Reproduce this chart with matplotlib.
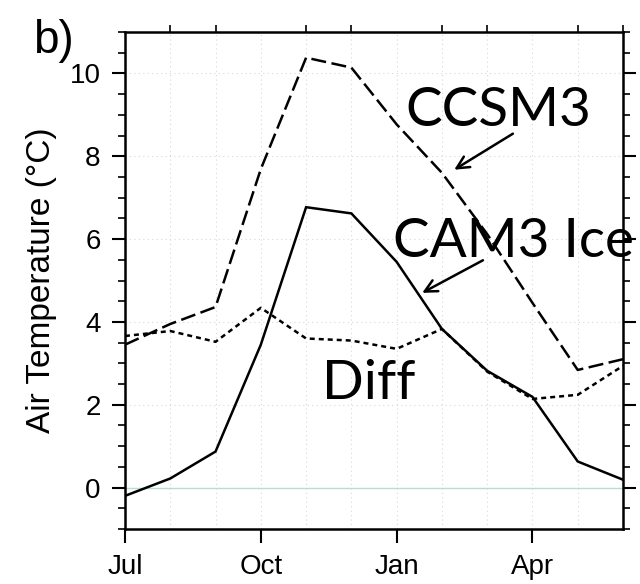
import matplotlib
matplotlib.use("Agg")
import matplotlib.pyplot as plt
import numpy as np

months = ["Jul", "Aug", "Sep", "Oct", "Nov", "Dec", "Jan", "Feb", "Mar", "Apr", "May", "Jun"]
cam3_ice = [-0.2, 0.22, 0.87, 3.45, 6.77, 6.62, 5.45, 3.83, 2.82, 2.19, 0.63, 0.19]
ccsm3 = [3.45, 3.95, 4.36, 7.69, 10.38, 10.14, 8.77, 7.6, 6.12, 4.46, 2.84, 3.1]
diff = [3.66, 3.78, 3.52, 4.34, 3.6, 3.55, 3.35, 3.83, 2.8, 2.14, 2.24, 2.94]
major_months = ["Jul", "Oct", "Jan", "Apr"]
yticks = [0, 2, 4, 6, 8, 10]

plt.rcParams['font.family'] = ['Liberation Sans', 'DejaVu Sans']

fig = plt.figure(figsize=(6.4, 5.84), dpi=100)
ax = fig.add_axes([125/640, 55/584, 498/640, 497/584])

x = np.arange(len(months))

# grid
for xi in x[1:]:
    ax.axvline(xi, color='#d8d8d8', lw=0.8, ls=(0, (1, 3)), zorder=0)
for yv in yticks:
    ax.axhline(yv, color='#d8d8d8', lw=0.8, ls=(0, (1, 3)), zorder=0)
ax.axhline(0, color='#b8ddd6', lw=1.0, zorder=1)

ax.plot(x, cam3_ice, color='black', lw=1.8, solid_joinstyle='miter', zorder=3)
ax.plot(x, ccsm3, color='black', lw=1.8, ls=(0, (6, 2.2)), zorder=3)
ax.plot(x, diff, color='black', lw=1.8, ls=(0, (2, 1.6)), zorder=3)

ax.set_xlim(0, 11)
ax.set_ylim(-1, 11)

maj_idx = [months.index(m) for m in major_months]
ax.set_xticks(maj_idx)
ax.set_xticklabels(major_months, fontsize=20)
ax.set_yticks(yticks)
ax.set_yticklabels([str(v) for v in yticks], fontsize=20)
ax.set_yticks(np.arange(-1, 11.01, 0.5), minor=True)

ax.tick_params(axis='y', which='major', direction='out', length=9.5, width=1.5, left=True, right=True, pad=8)
ax.tick_params(axis='y', which='minor', direction='out', length=5, width=1.2, left=True, right=True)
ax.tick_params(axis='x', which='major', direction='out', length=10, width=1.5, bottom=True, top=False, pad=8)

# top minor ticks at the other months
minor_idx = [i for i in x if i not in maj_idx]
ax.set_xticks(minor_idx, minor=True)
ax.tick_params(axis='x', which='minor', direction='out', length=5, width=1.2, bottom=False, top=True)

for s in ax.spines.values():
    s.set_linewidth(1.8)

ax.set_ylabel("Air Temperature (°C)", fontsize=24, labelpad=9)

fig.text(33/640, 1 - 53/584, "b)", fontsize=33, ha='left', va='baseline')

afont = dict(family=['Lato', 'DejaVu Sans'], fontsize=39.5)
ax.text(8.24, 8.72, "CCSM3", ha='center', va='baseline', **afont)
ax.text(5.93, 5.57, "CAM3 Ice", ha='left', va='baseline', **afont)
ax.text(4.35, 2.14, "Diff", ha='left', va='baseline', **afont)

ax.annotate("", xy=(7.22, 7.64), xytext=(8.62, 8.58),
            arrowprops=dict(arrowstyle='->', lw=1.8, color='black', mutation_scale=22))
ax.annotate("", xy=(6.51, 4.67), xytext=(7.96, 5.52),
            arrowprops=dict(arrowstyle='->', lw=1.8, color='black', mutation_scale=22))

fig.savefig("out.png", dpi=100)
